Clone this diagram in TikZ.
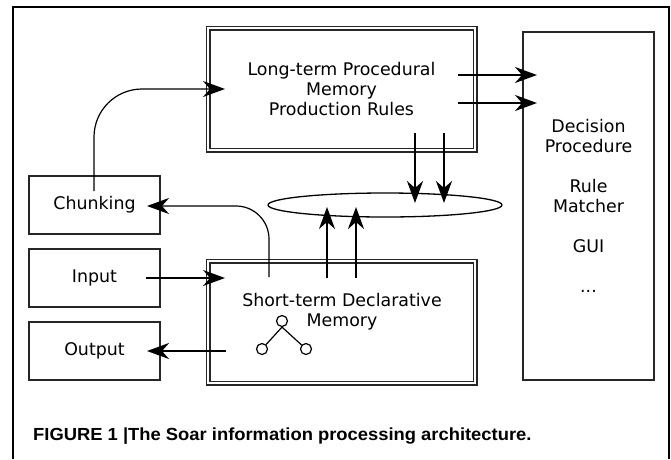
\documentclass[tikz,border=0pt]{standalone}
\usepackage{fontspec}
\setmainfont{DejaVu Sans}
\newfontfamily\capfont[FakeStretch=1.05]{Liberation Sans}
\usetikzlibrary{arrows.meta,shapes.geometric}

\begin{document}
\begin{tikzpicture}[x=1pt, y=-1pt, font=\fontsize{17.4}{20}\selectfont,
	box/.style={draw=black!85, line width=1.3pt, minimum width=131pt, minimum height=58pt, inner sep=0pt, outer sep=0pt},
	dbox/.style={draw=black!85, double, line width=1.2pt, double distance=2.6pt, minimum width=267pt, minimum height=122pt, inner sep=0pt, outer sep=0pt},
	dot/.style={draw, circle, minimum size=11pt, inner sep=0pt, line width=1.2pt},
	arr/.style={-{Stealth[length=22pt,width=16pt,inset=7pt]}, line width=1.2pt},
	tarr/.style={arr, line width=2pt}]
	\useasboundingbox (0,0) rectangle (671,459);
	\draw[line width=1.4pt] (13,459) -- (13,7) -- (669,7) -- (669,459);
	\node[dbox, align=center] (ltm) at (341.5,89) {Long-term Procedural\\Memory\\Production Rules};
	\node[dbox] (stm) at (341.5,322) {};
	\node[align=center] (stmtxt) at (342,312) {Short-term Declarative\\Memory};
	\node[box, minimum height=348pt, align=center] (dec) at (588.5,206) {Decision\\Procedure\\[20pt]Rule\\Matcher\\[20pt]GUI\\[20pt]...};
	\node[box] (chunk) at (94.5,205) {Chunking};
	\node[box] (inp) at (94.5,278) {Input};
	\node[box] (outp) at (94.5,351) {Output};
	\node[draw, ellipse, line width=1.3pt, minimum width=234pt, minimum height=24pt, inner sep=0pt] (pool) at (385,205) {};
	\node[dot] (t0) at (282,321) {};
	\node[dot] (t1) at (262,349) {};
	\node[dot] (t2) at (306,349) {};
	\draw[line width=1.2pt] (t1) -- (t0.south) -- (t2);
	\draw[tarr] ([shift={(-17,-14)}]ltm.east) -- ([shift={(14,-131)}]dec.west);
	\draw[tarr] ([shift={(-17,14)}]ltm.east) -- ([shift={(14,-103)}]dec.west);
	\draw[tarr] ([shift={(73.5,-17)}]ltm.south) -- ([shift={(30,-2)}]pool.center);
	\draw[tarr] ([shift={(102.5,-17)}]ltm.south) -- ([shift={(59,-2)}]pool.center);
	\draw[arr] ([shift={(-14.5,17)}]stm.north) -- ([shift={(-58,2)}]pool.center);
	\draw[tarr] ([shift={(14.5,17)}]stm.north) -- ([shift={(-29,2)}]pool.center);
	\draw[arr, rounded corners=33pt] ([shift={(-72.5,16)}]stm.north) |- ([shift={(-13,1)}]chunk.east);
	\draw[arr, rounded corners=48pt] ([shift={(-0.5,15)}]chunk.north) |- ([shift={(17,0)}]ltm.west);
	\draw[arr] ([shift={(-14,0)}]inp.east) -- ([shift={(17,-44)}]stm.west);
	\draw[tarr] ([shift={(18,29)}]stm.west) -- ([shift={(-13,0)}]outp.east);
	\node[anchor=base west, inner sep=0pt, font=\capfont\fontsize{17.5}{20}\selectfont\bfseries] (cap) at (33,440) {FIGURE 1 |The Soar information processing architecture.};
\end{tikzpicture}
\end{document}
